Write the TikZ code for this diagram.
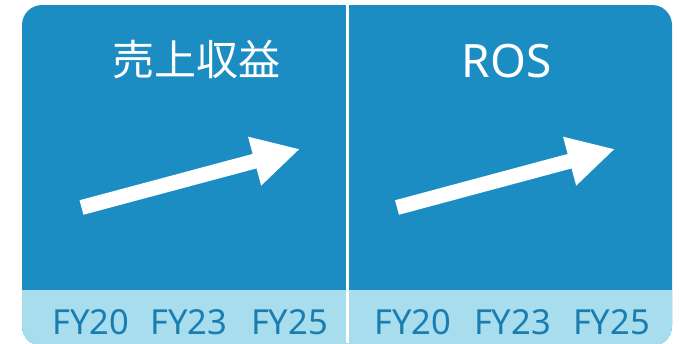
\documentclass[tikz,border=0pt]{standalone}
\usepackage{fontspec}
\setmainfont{Noto Sans}
\newfontfamily\jpfont{Noto Sans CJK JP}
\usetikzlibrary{arrows.meta}
\definecolor{panelblue}{HTML}{1B8DC3}
\definecolor{striplight}{HTML}{A8DDEE}
\definecolor{yeartext}{HTML}{1A7DB0}
\begin{document}
\begin{tikzpicture}[x=1pt,y=-1pt,
    title/.style={text=white,anchor=base,inner sep=0pt,font=\fontsize{42}{42}\selectfont},
    year/.style={text=yeartext,anchor=base,inner sep=0pt,font=\fontsize{34.5}{34.5}\selectfont},
    trend/.style={white,line width=15pt,-{Triangle[length=47pt,width=47pt]}}]
    \useasboundingbox (0,0) rectangle (679,343);
    \fill[panelblue,rounded corners=20pt] (22,5) rectangle (672,346);
    \begin{scope}
      \clip[rounded corners=20pt] (22,5) rectangle (672,346);
      \fill[striplight] (0,290) rectangle (679,350);
    \end{scope}
    \fill[white] (345.5,0) rectangle (349,343);
    \node[title] (sales) at (196,75) {\jpfont 売上収益};
    \node[title,font=\fontsize{46}{46}\selectfont] (ros) at (506.5,77) {ROS};
    \coordinate (sales0) at (81.5,207.5);
    \coordinate (sales1) at (300,149);
    \coordinate (ros0) at (397,207.5);
    \coordinate (ros1) at (615,149);
    \draw[trend] (sales0) -- (sales1);
    \draw[trend] (ros0) -- (ros1);
    \node[year] (s20) at (91,334) {FY20};
    \node[year] (s23) at (189,334) {FY23};
    \node[year] (s25) at (289.5,334) {FY25};
    \node[year] (r20) at (413,334) {FY20};
    \node[year] (r23) at (512.5,334) {FY23};
    \node[year] (r25) at (611.5,334) {FY25};
\end{tikzpicture}
\end{document}
